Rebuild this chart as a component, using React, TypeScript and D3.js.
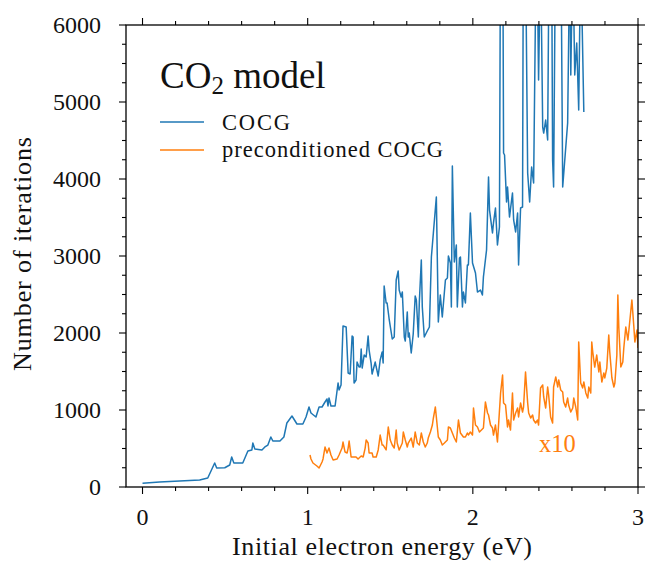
import React, { useEffect } from "react";
import * as d3 from "d3";

// COCG (unpreconditioned) – energy (eV) and iteration count
const cocgEnergy = [
  0.0, 0.103, 0.225, 0.346, 0.395, 0.437, 0.449, 0.498, 0.528, 0.54, 0.553, 0.607, 0.638, 0.662, 0.668, 0.68,
  0.723, 0.741, 0.759, 0.777, 0.789, 0.832, 0.856, 0.874, 0.905, 0.935, 0.971, 0.99, 1.008, 1.02, 1.05, 1.069,
  1.087, 1.105, 1.117, 1.123, 1.129, 1.141, 1.166, 1.184, 1.19, 1.202, 1.214, 1.233, 1.245, 1.257, 1.269, 1.275,
  1.281, 1.293, 1.299, 1.311, 1.318, 1.324, 1.33, 1.342, 1.354, 1.366, 1.372, 1.384, 1.39, 1.409, 1.415, 1.427,
  1.439, 1.451, 1.457, 1.463, 1.475, 1.481, 1.494, 1.512, 1.524, 1.536, 1.548, 1.554, 1.566, 1.573, 1.585, 1.591,
  1.603, 1.609, 1.615, 1.627, 1.639, 1.651, 1.658, 1.67, 1.676, 1.688, 1.694, 1.706, 1.724, 1.737, 1.749, 1.761,
  1.779, 1.791, 1.803, 1.815, 1.834, 1.846, 1.852, 1.864, 1.87, 1.876, 1.888, 1.9, 1.906, 1.919, 1.925, 1.937,
  1.943, 1.955, 1.967, 1.973, 1.985, 1.998, 2.016, 2.028, 2.046, 2.058, 2.064, 2.083, 2.095, 2.101, 2.119, 2.125,
  2.137, 2.149, 2.161, 2.168, 2.18, 2.186, 2.192, 2.204, 2.21, 2.222, 2.24, 2.247, 2.259, 2.271, 2.277, 2.289,
  2.301, 2.307, 2.319, 2.332, 2.344, 2.356, 2.368, 2.386, 2.398, 2.41, 2.423, 2.429, 2.441, 2.453, 2.465, 2.477,
  2.483, 2.489, 2.502, 2.532, 2.544, 2.574, 2.587, 2.593, 2.605, 2.617, 2.629, 2.641, 2.653, 2.672,
];
const cocgIterations = [
  50, 65, 78, 90, 117, 312, 247, 250, 286, 390, 312, 312, 468, 481, 571, 494,
  481, 520, 545, 649, 597, 597, 649, 831, 922, 818, 818, 909, 1039, 961, 909, 1039,
  1039, 1104, 1143, 1052, 1156, 1052, 1052, 1351, 1260, 1325, 2091, 2078, 1481, 1468, 1961, 1948,
  1351, 1390, 1623, 1558, 1558, 1792, 1545, 1714, 1688, 1961, 1779, 1610, 1468, 1623, 1558, 1442,
  1649, 1753, 1610, 2610, 2390, 2390, 2169, 1922, 1948, 2688, 2805, 2558, 2468, 2532, 1948, 1896,
  2273, 1948, 2000, 1740, 1987, 2481, 2429, 1948, 2403, 2948, 2338, 1948, 2026, 2078, 2987, 3299,
  3766, 2143, 2494, 2208, 2688, 2714, 3000, 2909, 2338, 4169, 2922, 3143, 2338, 2974, 2987, 2338,
  2532, 2390, 2883, 2883, 3558, 2909, 2779, 2532, 2558, 2494, 2727, 3078, 4026, 3597, 3299, 3429,
  3623, 3143, 3377, 7500, 8000, 4338, 4312, 3701, 3896, 3506, 3818, 3468, 3312, 3558, 2883, 3623,
  3636, 8000, 7000, 4078, 3701, 4156, 3948, 7500, 5286, 7000, 4675, 4597, 4766, 4506, 8000, 7000,
  4247, 3896, 7500, 7500, 3896, 4727, 7000, 5351, 7000, 5351, 5766, 4896, 7000, 4870,
];

// preconditioned COCG – iteration count shown x10
const precondEnergy = [
  1.014, 1.02, 1.032, 1.056, 1.069, 1.087, 1.093, 1.105, 1.117, 1.129, 1.141, 1.154, 1.178, 1.19, 1.208, 1.214,
  1.226, 1.239, 1.245, 1.251, 1.263, 1.275, 1.293, 1.305, 1.324, 1.336, 1.348, 1.354, 1.366, 1.372, 1.39, 1.396,
  1.415, 1.427, 1.439, 1.451, 1.457, 1.475, 1.488, 1.5, 1.512, 1.524, 1.536, 1.542, 1.554, 1.573, 1.579, 1.591,
  1.603, 1.609, 1.627, 1.639, 1.651, 1.664, 1.676, 1.688, 1.7, 1.712, 1.724, 1.73, 1.743, 1.755, 1.761, 1.773,
  1.785, 1.791, 1.803, 1.815, 1.828, 1.846, 1.852, 1.864, 1.876, 1.888, 1.9, 1.913, 1.925, 1.943, 1.955, 1.967,
  1.973, 1.985, 1.998, 2.004, 2.016, 2.028, 2.04, 2.052, 2.064, 2.076, 2.089, 2.095, 2.107, 2.119, 2.125, 2.137,
  2.149, 2.155, 2.168, 2.18, 2.186, 2.198, 2.21, 2.216, 2.228, 2.24, 2.247, 2.259, 2.271, 2.277, 2.289, 2.301,
  2.307, 2.319, 2.332, 2.338, 2.35, 2.362, 2.368, 2.38, 2.392, 2.398, 2.41, 2.423, 2.429, 2.441, 2.453, 2.459,
  2.471, 2.483, 2.489, 2.502, 2.514, 2.52, 2.532, 2.544, 2.55, 2.562, 2.574, 2.58, 2.593, 2.605, 2.611, 2.623,
  2.635, 2.641, 2.653, 2.665, 2.672, 2.684, 2.696, 2.702, 2.714, 2.72, 2.726, 2.738, 2.75, 2.763, 2.769, 2.781,
  2.793, 2.799, 2.811, 2.823, 2.829, 2.842, 2.854, 2.86, 2.872, 2.878, 2.884, 2.896, 2.908, 2.914, 2.926, 2.939,
  2.945, 2.957, 2.963, 2.975, 2.981, 2.994, 3.0,
];
const precondIterations = [
  416, 364, 312, 273, 247, 325, 364, 519, 442, 506, 416, 351, 364, 416, 506, 584,
  455, 442, 506, 597, 390, 390, 390, 364, 403, 390, 506, 610, 571, 442, 442, 390,
  390, 481, 675, 545, 545, 481, 779, 610, 545, 506, 740, 571, 481, 571, 714, 610,
  519, 571, 636, 519, 714, 571, 545, 701, 584, 519, 571, 636, 714, 805, 896, 1039,
  779, 649, 610, 545, 571, 610, 779, 766, 701, 636, 584, 870, 701, 649, 649, 701,
  675, 714, 675, 1026, 805, 779, 714, 740, 766, 1104, 961, 935, 805, 766, 675, 805,
  584, 779, 1221, 1455, 1091, 1065, 779, 870, 740, 1221, 870, 961, 1026, 909, 1091, 974,
  1039, 1494, 1091, 961, 896, 935, 870, 831, 870, 805, 1286, 1325, 1169, 1026, 1299, 1195,
  909, 831, 1299, 1429, 1299, 1390, 1260, 1234, 1104, 1039, 1156, 1065, 974, 1026, 1156, 1039,
  870, 1883, 1351, 1286, 1364, 1221, 1156, 1299, 1221, 1883, 1753, 1558, 1714, 1494, 1623, 1364,
  1481, 1416, 1545, 1974, 1753, 1416, 1299, 1351, 1714, 2494, 2065, 1558, 1623, 1805, 2078, 1909,
  2039, 2299, 2429, 2078, 1883, 2039, 1805,
];

const xMajor = [0, 1, 2, 3];
const yMajor = [0, 1000, 2000, 3000, 4000, 5000, 6000];

const W = 648;
const H = 562;
const margin = { left: 126, right: 10, top: 25, bottom: 75 };
const FONT = "'Liberation Serif', 'DejaVu Serif', serif";
const BLUE = "#1f77b4";
const ORANGE = "#ff7f0e";

export default function App() {
  useEffect(() => {
    document.body.style.margin = "0";
  }, []);

  const x = d3.scaleLinear().domain([-0.1, 3.0]).range([margin.left, W - margin.right]);
  const y = d3.scaleLinear().domain([0, 6000]).range([H - margin.bottom, margin.top]);
  const [x0, x1] = x.range();
  const [yb, yt] = y.range();

  const makePath = (es: number[], ns: number[]) =>
    d3
      .line<[number, number]>()
      .x((d) => x(d[0]))
      .y((d) => y(d[1]))(es.map((e, i) => [e, ns[i]]));

  const xMinor = d3.range(0, 3.0001, 0.2).filter((v) => !xMajor.some((m) => Math.abs(m - v) < 1e-6));
  const yMinor = d3.range(0, 6001, 250).filter((v) => v % 1000 !== 0);

  const majLen = 7;
  const minLen = 4;

  return (
    <svg width={W} height={H} style={{ display: "block", background: "#fff" }} fontFamily={FONT}>
      <defs>
        <clipPath id="plot">
          <rect x={x0} y={yt} width={x1 - x0} height={yb - yt} />
        </clipPath>
      </defs>

      {/* data */}
      <g clipPath="url(#plot)" fill="none" strokeWidth={1.5} strokeLinejoin="round">
        <path d={makePath(cocgEnergy, cocgIterations) || ""} stroke={BLUE} />
        <path d={makePath(precondEnergy, precondIterations) || ""} stroke={ORANGE} />
      </g>

      {/* ticks */}
      <g stroke="#000" strokeWidth={1.1}>
        {xMajor.map((v) => (
          <g key={"xm" + v}>
            <line x1={x(v)} x2={x(v)} y1={yb} y2={yb + majLen} />
            <line x1={x(v)} x2={x(v)} y1={yt} y2={yt - majLen} />
          </g>
        ))}
        {xMinor.map((v) => (
          <g key={"xn" + v}>
            <line x1={x(v)} x2={x(v)} y1={yb} y2={yb + minLen} />
            <line x1={x(v)} x2={x(v)} y1={yt} y2={yt - minLen} />
          </g>
        ))}
        {yMajor.map((v) => (
          <g key={"ym" + v}>
            <line x1={x0} x2={x0 - majLen} y1={y(v)} y2={y(v)} />
            <line x1={x1} x2={x1 + majLen} y1={y(v)} y2={y(v)} />
          </g>
        ))}
        {yMinor.map((v) => (
          <g key={"yn" + v}>
            <line x1={x0} x2={x0 - minLen} y1={y(v)} y2={y(v)} />
            <line x1={x1} x2={x1 + minLen} y1={y(v)} y2={y(v)} />
          </g>
        ))}
      </g>

      {/* frame */}
      <rect x={x0} y={yt} width={x1 - x0} height={yb - yt} fill="none" stroke="#000" strokeWidth={1.3} />

      {/* tick labels */}
      <g fontSize={24} fill="#111">
        {xMajor.map((v) => (
          <text key={"xl" + v} x={x(v)} y={yb + 38} textAnchor="middle">
            {v}
          </text>
        ))}
        {yMajor.map((v) => (
          <text key={"yl" + v} x={x0 - 25} y={y(v) + 8} textAnchor="end">
            {v}
          </text>
        ))}
      </g>

      {/* axis labels */}
      <text x={(x0 + x1) / 2} y={555} textAnchor="middle" fontSize={26} textLength={300} fill="#111">
        Initial electron energy (eV)
      </text>
      <text
        transform={`translate(31,${(yt + yb) / 2 - 2}) rotate(-90)`}
        textAnchor="middle"
        fontSize={26}
        textLength={234}
        fill="#111"
      >
        Number of iterations
      </text>

      {/* title */}
      <text x={160} y={88} fontSize={37} fill="#111">
        CO
        <tspan fontSize={25} dy={6}>
          2
        </tspan>
        <tspan dy={-6}> model</tspan>
      </text>

      {/* legend */}
      <g fontSize={22.5} fill="#111">
        <line x1={160} x2={204} y1={122} y2={122} stroke={BLUE} strokeWidth={1.5} />
        <text x={222} y={130} textLength={68}>COCG</text>
        <line x1={160} x2={204} y1={150} y2={150} stroke={ORANGE} strokeWidth={1.5} />
        <text x={222} y={157} textLength={221}>preconditioned COCG</text>
      </g>

      <text x={539} y={452} fontSize={24.5} fill={ORANGE}>
        x10
      </text>
    </svg>
  );
}
